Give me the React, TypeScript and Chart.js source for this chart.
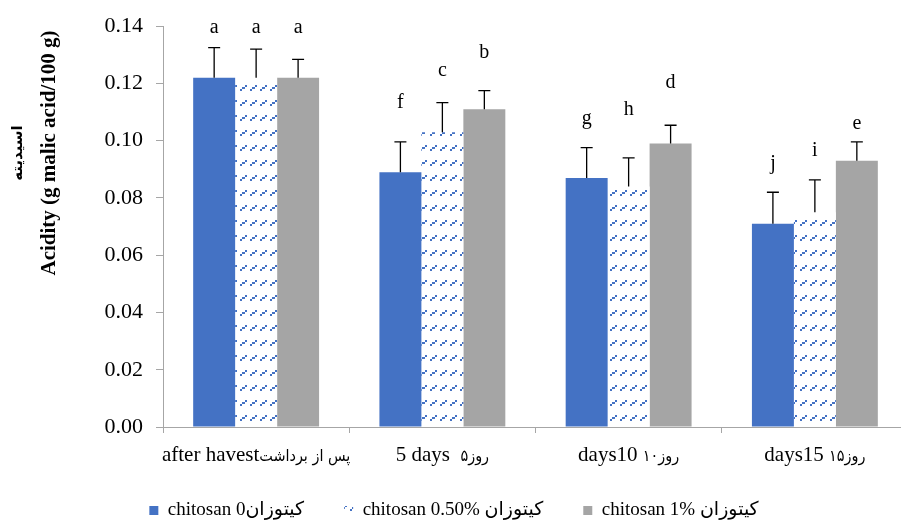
import React, { useEffect, useRef } from "react";
import { Chart, registerables } from "chart.js";

Chart.register(...registerables);

// ---- data ----
const categoriesEn = ["after havest", "5 days  ", "days10 ", "days15 "];
const categoriesFa = ["پس از برداشت", "روز۵", "روز۱۰", "روز۱۵"];
const seriesLabels = [
  "chitosan 0کیتوزان",
  "chitosan 0.50% کیتوزان",
  "chitosan 1% کیتوزان",
];
const chitosan0 = [0.122, 0.089, 0.087, 0.071];
const chitosan05 = [0.122, 0.103, 0.084, 0.075];
const chitosan1 = [0.122, 0.111, 0.099, 0.093];
const error0 = [0.0105, 0.0106, 0.0106, 0.011];
const error05 = [0.010, 0.0103, 0.010, 0.0113];
const error1 = [0.0064, 0.0065, 0.0064, 0.0066];
const letters0 = ["a", "f", "g", "j"];
const letters05 = ["a", "c", "h", "i"];
const letters1 = ["a", "b", "d", "e"];
// height (in acidity units) at which each significance letter sits
const letterLevel0 = [0.1393, 0.1133, 0.1078, 0.0921];
const letterLevel05 = [0.1393, 0.1243, 0.1109, 0.0965];
const letterLevel1 = [0.1393, 0.1308, 0.1202, 0.1058];
const yMin = 0;
const yMax = 0.14;
const yStep = 0.02;
const yTitleLatin = "Acidity (g malic acid/100 g)";
const yTitlePersian = "اسیدیته";

const SERIF = "'Liberation Serif', 'Times New Roman', 'DejaVu Sans', serif";
const FA_FONT = "'DejaVu Sans Condensed', 'DejaVu Sans', sans-serif";
const BLUE = "#4472C4";
const GRAY = "#A5A5A5";
const AXIS = "#A6A6A6";

export default function App() {
  const ref = useRef<HTMLCanvasElement>(null);

  useEffect(() => {
    const canvas = ref.current;
    if (!canvas) return;

    const tile = document.createElement("canvas");
    tile.width = 10;
    tile.height = 15;
    const t = tile.getContext("2d")!;
    t.fillStyle = "#ffffff";
    t.fillRect(0, 0, 10, 15);
    t.fillStyle = BLUE;
    t.fillRect(0, 9, 2, 2);
    t.fillRect(2, 7, 3, 2);
    t.fillRect(5, 5, 2, 2);
    const pattern = t.createPattern(tile, "repeat") as CanvasPattern;
    try {
      pattern.setTransform(new DOMMatrix().translate(0, 5));
    } catch (e) {
      /* ignore */
    }

    const errors = [error0, error05, error1];
    const letters = [letters0, letters05, letters1];
    const levels = [letterLevel0, letterLevel05, letterLevel1];

    const annot = {
      id: "annot",
      afterDatasetsDraw(chart: any) {
        const ctx = chart.ctx;
        const y = chart.scales.y;
        ctx.save();
        chart.data.datasets.forEach((ds: any, di: number) => {
          const meta = chart.getDatasetMeta(di);
          meta.data.forEach((bar: any, i: number) => {
            const v = ds.data[i];
            const top = y.getPixelForValue(v + errors[di][i]);
            const base = y.getPixelForValue(v);
            ctx.strokeStyle = "#000";
            ctx.lineWidth = 1.3;
            ctx.beginPath();
            ctx.moveTo(bar.x, base);
            ctx.lineTo(bar.x, top);
            ctx.moveTo(bar.x - 6, top);
            ctx.lineTo(bar.x + 6, top);
            ctx.stroke();
            ctx.fillStyle = "#000";
            ctx.font = `20px ${SERIF}`;
            ctx.textAlign = "center";
            ctx.textBaseline = "middle";
            ctx.fillText(letters[di][i], bar.x, y.getPixelForValue(levels[di][i]));
          });
        });
        ctx.restore();
      },
    };

    const texts = {
      id: "texts",
      afterDraw(chart: any) {
        const ctx = chart.ctx;
        const xs = chart.scales.x;
        // category labels (Latin + Persian parts)
        ctx.save();
        ctx.fillStyle = "#000";
        ctx.textAlign = "left";
        ctx.textBaseline = "alphabetic";
        const latFont = `21px ${SERIF}`;
        const faFont = `16px ${FA_FONT}`;
        const baseY = xs.top + 34;
        categoriesEn.forEach((en, i) => {
          const fa = categoriesFa[i];
          const cx = xs.getPixelForTick(i);
          ctx.font = latFont;
          const wEn = ctx.measureText(en).width;
          ctx.font = faFont;
          const wFa = ctx.measureText(fa).width;
          const x0 = cx - (wEn + wFa) / 2;
          ctx.font = latFont;
          ctx.fillText(en, x0, baseY);
          ctx.font = faFont;
          ctx.fillText(fa, x0 + wEn, baseY);
        });
        ctx.restore();

        // y-axis title (two rotated lines)
        const cy = 153;
        ctx.save();
        ctx.fillStyle = "#000";
        ctx.textAlign = "center";
        ctx.textBaseline = "alphabetic";
        ctx.translate(55, cy);
        ctx.rotate(-Math.PI / 2);
        ctx.font = `bold 21px ${SERIF}`;
        ctx.fillText(yTitleLatin, 0, 0);
        ctx.restore();
        ctx.save();
        ctx.fillStyle = "#000";
        ctx.textAlign = "center";
        ctx.textBaseline = "alphabetic";
        ctx.translate(22, cy);
        ctx.rotate(-Math.PI / 2);
        ctx.font = `bold 15px ${SERIF}`;
        ctx.fillText(yTitlePersian, 0, 0);
        ctx.restore();
      },
    };

    const chart = new Chart(canvas, {
      type: "bar",
      data: {
        labels: categoriesEn.map((en, i) => en + categoriesFa[i]),
        datasets: [
          { label: seriesLabels[0], data: chitosan0, backgroundColor: BLUE, borderWidth: 0 },
          { label: seriesLabels[1], data: chitosan05, backgroundColor: pattern, borderWidth: 0 },
          { label: seriesLabels[2], data: chitosan1, backgroundColor: GRAY, borderWidth: 0 },
        ],
      },
      options: {
        responsive: false,
        animation: false,
        layout: { padding: { top: 18, right: 2, left: 0, bottom: 0 } },
        datasets: { bar: { categoryPercentage: 0.676, barPercentage: 1 } },
        scales: {
          x: {
            offset: true,
            grid: { drawOnChartArea: false, tickLength: 6, color: AXIS, offset: true },
            border: { color: AXIS, width: 1 },
            ticks: { display: false },
            afterFit: (s: any) => {
              s.height = 34;
            },
          },
          y: {
            min: yMin,
            max: yMax,
            grid: { drawOnChartArea: false, tickLength: 7, color: AXIS },
            border: { color: AXIS, width: 1 },
            ticks: {
              stepSize: yStep,
              color: "#000",
              font: { family: SERIF, size: 22 },
              padding: 13,
              callback: (v: any) => Number(v).toFixed(2),
            },
            afterFit: (s: any) => {
              s.width = 163;
            },
          },
        },
        plugins: {
          legend: {
            position: "bottom",
            labels: {
              boxWidth: 9,
              boxHeight: 9,
              padding: 40,
              color: "#000",
              font: { family: SERIF, size: 19 },
            },
          },
          tooltip: { enabled: false },
        },
      },
      plugins: [annot, texts],
    });

    return () => chart.destroy();
  }, []);

  return (
    <div
      style={{
        position: "fixed",
        left: 0,
        top: 0,
        width: 901,
        height: 522,
        overflow: "hidden",
        background: "#fff",
      }}
    >
      <canvas ref={ref} width={910} height={530} style={{ display: "block", width: 910, height: 530 }} />
    </div>
  );
}
